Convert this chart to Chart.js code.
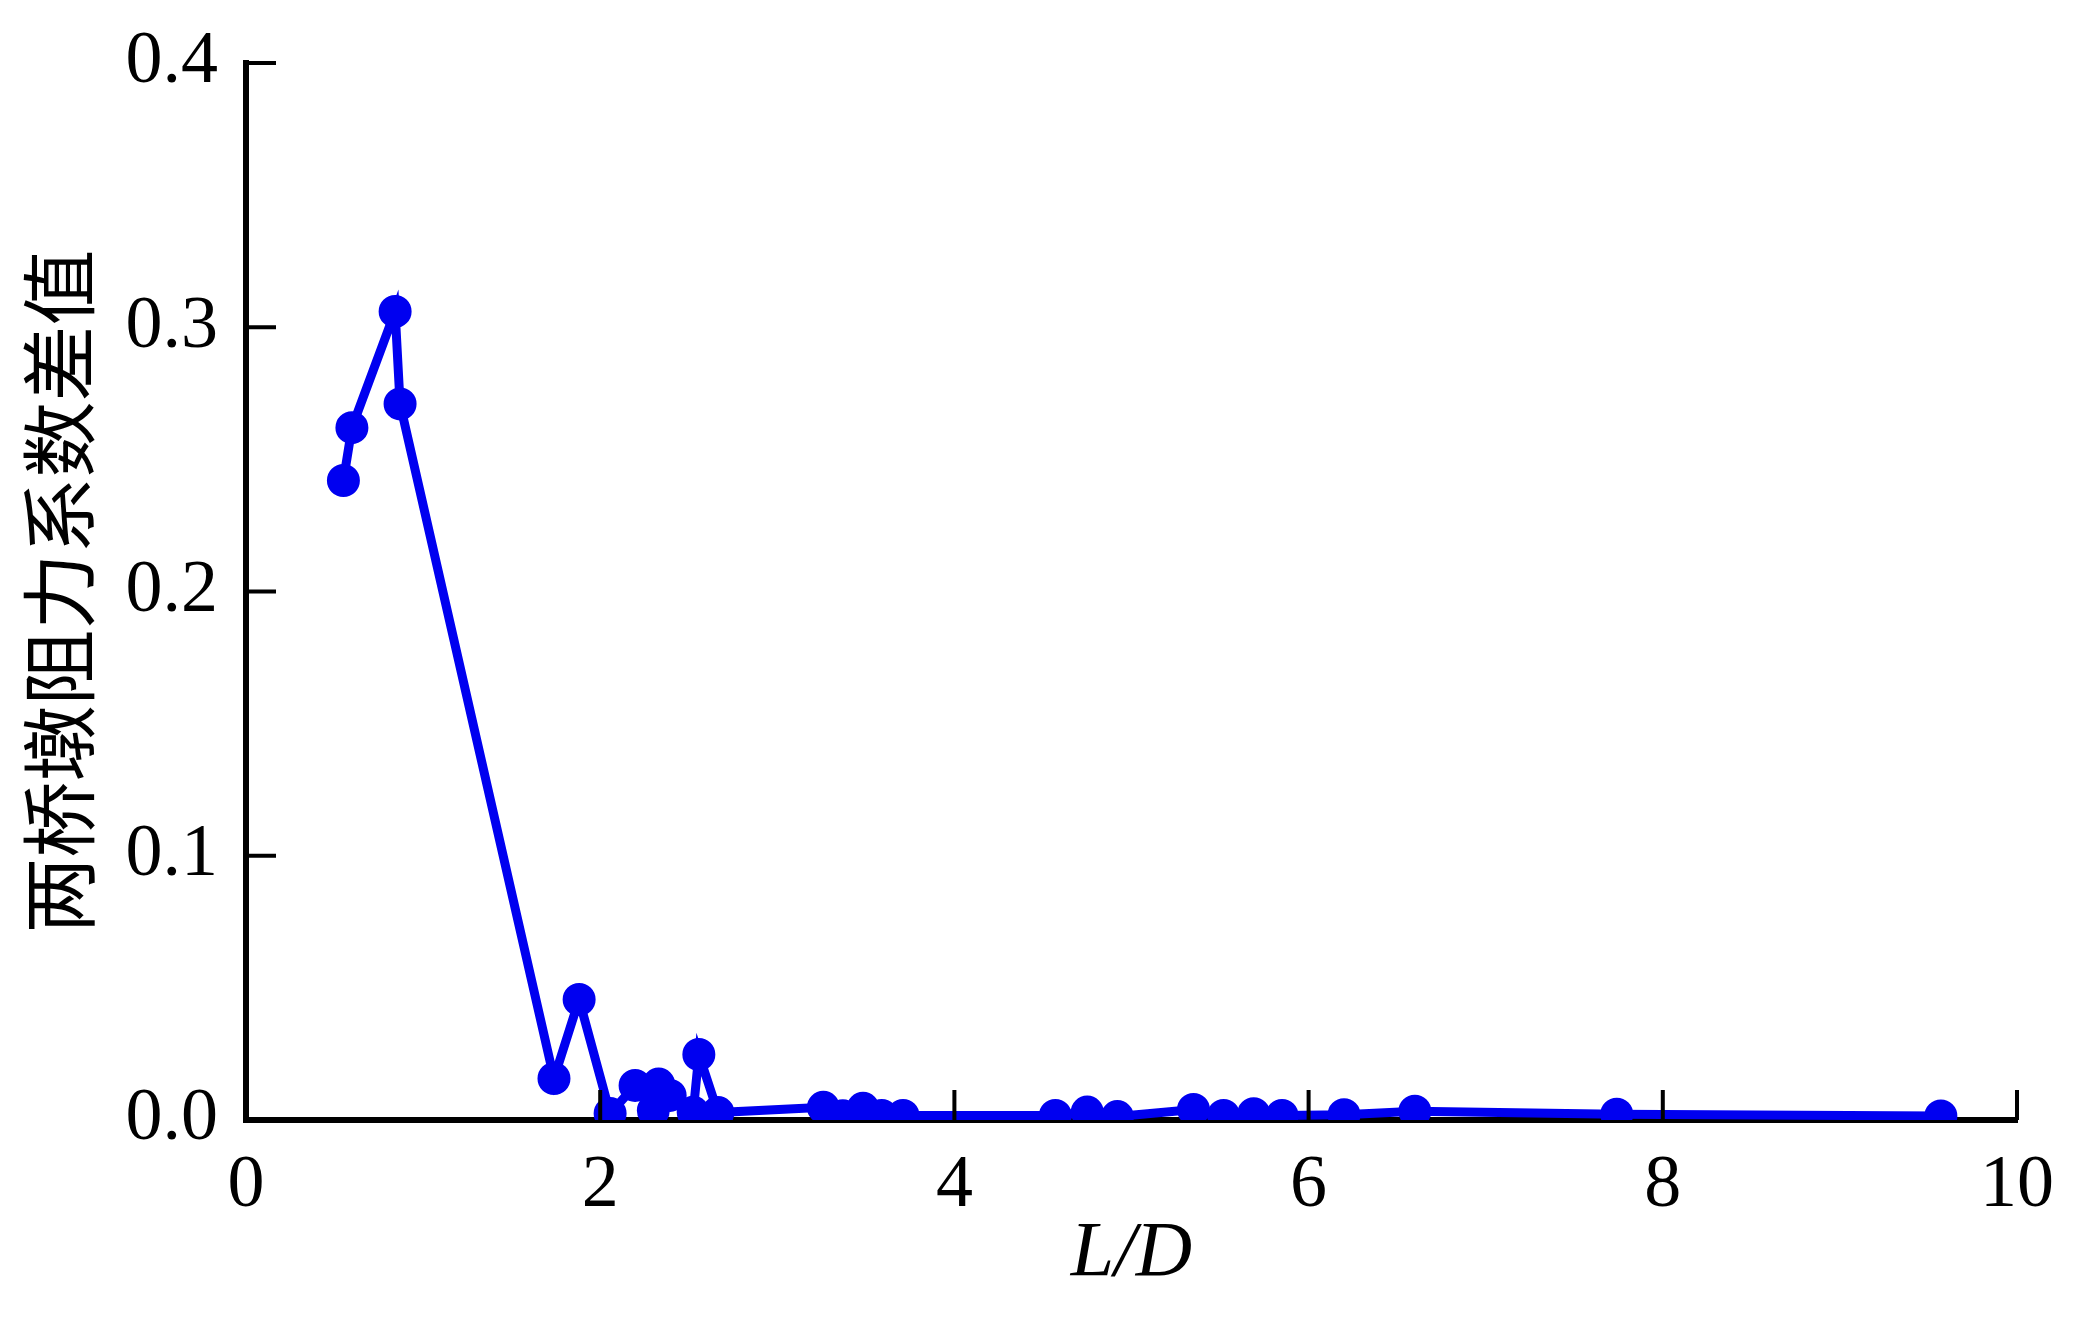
<!DOCTYPE html>
<html>
<head>
<meta charset="utf-8">
<title>两桥墩阻力系数差值</title>
<script src="https://cdn.jsdelivr.net/npm/chart.js@4/dist/chart.umd.min.js"></script>
<style>
  html, body { margin: 0; padding: 0; background: #fff; }
  #wrap { width: 2095px; height: 1329px; }
</style>
</head>
<body>
<div id="wrap"><canvas id="chart" width="2095" height="1329"></canvas></div>
<script>
// L/D values
const ratioLD = [0.55, 0.598, 0.842, 0.870, 1.739, 1.881, 2.056, 2.197, 2.30, 2.33,
    2.395, 2.525, 2.557, 2.665, 3.26, 3.37, 3.484, 3.59, 3.71, 4.57,
    4.75, 4.92, 5.35, 5.52, 5.69, 5.85, 6.20, 6.60, 7.74, 9.57]
// drag coefficient difference between the two piers
const dragDiff = [0.242, 0.262, 0.306, 0.271, 0.0157, 0.0456, 0.0025, 0.0131, 0.0036, 0.0136,
    0.0093, 0.0029, 0.0248, 0.0028, 0.0048, 0.0016, 0.0044, 0.0017, 0.0017, 0.0017,
    0.0030, 0.0013, 0.0040, 0.0017, 0.0024, 0.0017, 0.0020, 0.0033, 0.0022, 0.0015]
const xTicks = [0, 2, 4, 6, 8, 10]
const yTicks = [0.0, 0.1, 0.2, 0.3, 0.4]

const xTitle = 'L/D'
const yTitle = '两桥墩阻力系数差值'

const points = ratioLD.map((v, i) => ({x: v, y: dragDiff[i]}))

// inward tick marks, placed with the chart's own scales
const inwardTicks = {
    id: 'inwardTicks',
    afterDraw: (chart) => {
        const ctx = chart.ctx
        const area = chart.chartArea
        const xs = chart.scales.x
        const ys = chart.scales.y
        ctx.save()
        ctx.strokeStyle = '#000'
        ctx.lineWidth = 4
        ctx.lineCap = 'butt'
        ctx.beginPath()
        xTicks.forEach((t) => {
            const px = xs.getPixelForValue(t)
            ctx.moveTo(px, area.bottom)
            ctx.lineTo(px, area.bottom - 30)
        })
        yTicks.forEach((t) => {
            const py = ys.getPixelForValue(t)
            ctx.moveTo(area.left, py)
            ctx.lineTo(area.left + 30, py)
        })
        ctx.stroke()
        ctx.restore()
    }
}

new Chart(document.getElementById('chart'), {
    type: 'scatter',
    data: {
        datasets: [{
            data: points,
            showLine: true,
            borderColor: '#0000f0',
            backgroundColor: '#0000f0',
            borderWidth: 9,
            pointRadius: 12,
            pointHoverRadius: 12,
            clip: 0
        }]
    },
    options: {
        responsive: false,
        animation: false,
        layout: {padding: {top: 63, right: 78, bottom: 0, left: 0}},
        plugins: {legend: {display: false}, tooltip: {enabled: false}},
        scales: {
            x: {
                type: 'linear',
                min: 0,
                max: 10,
                z: 1,
                afterBuildTicks: (s) => { s.ticks = xTicks.map(v => ({value: v})) },
                afterFit: (s) => { s.height = 209 },
                grid: {display: false, drawTicks: false},
                border: {display: true, color: '#000', width: 6},
                ticks: {
                    color: '#000',
                    padding: 22,
                    font: {family: '"Liberation Serif", "Times New Roman", serif', size: 74},
                    callback: (v) => String(v)
                },
                title: {
                    display: true,
                    text: xTitle,
                    color: '#000',
                    padding: {top: 0, bottom: 36},
                    font: {family: '"Liberation Serif", "Times New Roman", serif', size: 78, style: 'italic', lineHeight: 1}
                }
            },
            y: {
                type: 'linear',
                min: 0,
                max: 0.4,
                z: 1,
                afterBuildTicks: (s) => { s.ticks = yTicks.map(v => ({value: v})) },
                afterFit: (s) => { s.width = 246 },
                grid: {display: false, drawTicks: false},
                border: {display: true, color: '#000', width: 6},
                ticks: {
                    color: '#000',
                    padding: 28,
                    font: {family: '"Liberation Serif", "Times New Roman", serif', size: 74, lineHeight: 0.4},
                    callback: (v) => Number(v).toFixed(1)
                },
                title: {
                    display: true,
                    text: yTitle,
                    color: '#000',
                    padding: {top: 21, bottom: 0},
                    font: {family: '"Noto Sans CJK SC", sans-serif', size: 76, lineHeight: 1}
                }
            }
        }
    },
    plugins: [inwardTicks]
})
</script>
</body>
</html>
